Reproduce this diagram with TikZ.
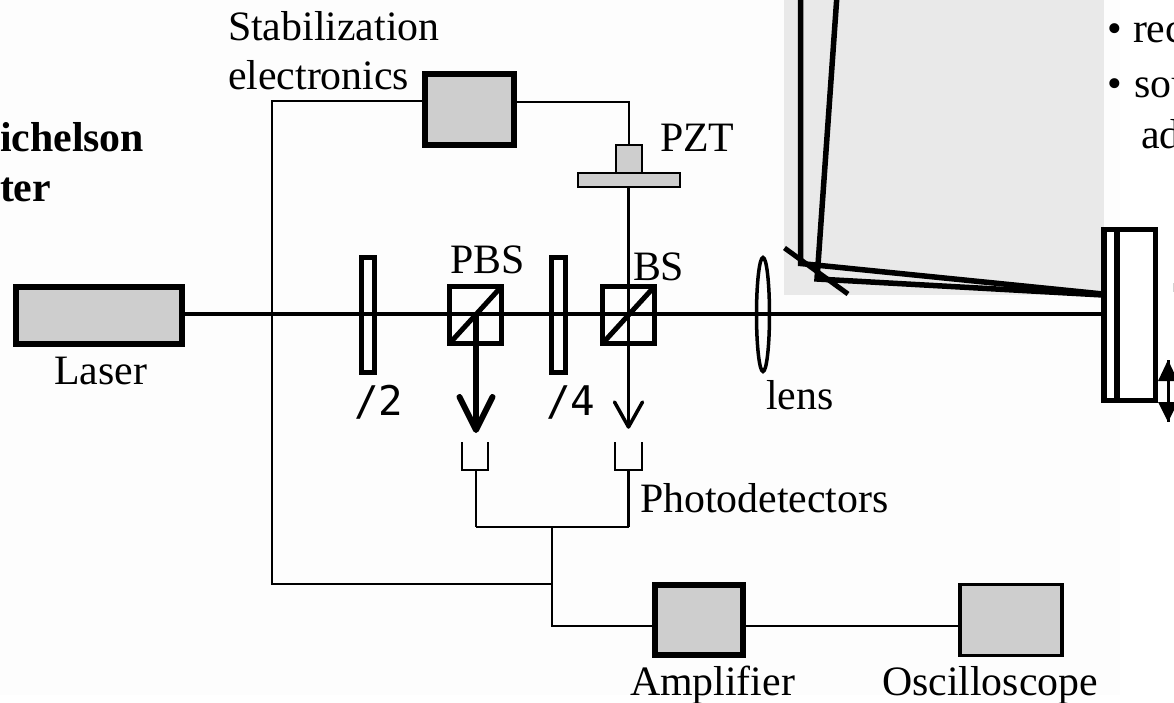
\documentclass[tikz,border=0pt]{standalone}
\usepackage{fontspec}
\usetikzlibrary{shapes.geometric}
\setmainfont{Liberation Serif}
\newfontfamily\plainsans{DejaVu Sans Mono}
\definecolor{boxgray}{HTML}{CECECE}
\definecolor{panelgray}{HTML}{E9E9E9}
\definecolor{paper}{HTML}{FDFDFD}
\tikzset{
  lbl/.style={anchor=base west,inner sep=0pt,outer sep=0pt,font=\fontsize{42}{50}\selectfont},
  boldlbl/.style={lbl,font=\fontsize{42}{50}\selectfont\bfseries},
  sym/.style={anchor=base west,inner sep=0pt,outer sep=0pt,font=\plainsans\fontsize{41}{50}\selectfont},
  gbox/.style={draw=black,fill=boxgray,rectangle,inner sep=0pt,outer sep=0pt},
  obox/.style={draw=black,rectangle,inner sep=0pt,outer sep=0pt},
  beam/.style={draw=black,line width=3.5bp},
  wire/.style={draw=black,line width=2.5bp,line join=miter},
  fat/.style={draw=black,line width=5.7bp,line join=miter},
}
\begin{document}
\begin{tikzpicture}[x=1bp,y=-1bp]
\useasboundingbox (0,0) rectangle (1174,703);
\clip (0,0) rectangle (1174,703);
\fill[white] (0,0) rectangle (1174,703);
\fill[paper] (0,0) rectangle (1120,695);
\fill[panelgray] (784,0) rectangle (1104,295);

% coordinates
\coordinate (b0) at (185,314);
\coordinate (b1) at (1103,314);
\coordinate (wTop) at (272,101);
\coordinate (wBot) at (272,584);
\coordinate (jn1) at (552,584);
\coordinate (jn0) at (552,527);
\coordinate (jn2) at (552,626);
\coordinate (pzCorner) at (629,102);
\coordinate (dL) at (476,527);
\coordinate (dR) at (628.5,527);

% boxes
\node[gbox,line width=5.7bp,minimum width=166bp,minimum height=57bp] (laser) at (99,315.5) {};
\node[gbox,line width=5.7bp,minimum width=89bp,minimum height=71bp] (stab) at (469.5,109.5) {};
\node[gbox,line width=6bp,minimum width=88bp,minimum height=70bp] (amp) at (699,620) {};
\node[gbox,line width=3.5bp,minimum width=102bp,minimum height=71bp] (osc) at (1011,620) {};
\node[gbox,line width=2bp,minimum width=26bp,minimum height=28bp] (pzt) at (629,159) {};
\node[gbox,line width=2bp,minimum width=102bp,minimum height=14bp] (plate) at (629,180.5) {};

% beams and wires
\draw[beam] (b0) -- (b1);
\draw[wire] (stab.west |- wTop) -- (wTop) -- (wBot) -- (jn1);
\draw[wire] (stab.east |- pzCorner) -- (pzCorner) -- (pzt.north -| pzCorner);
\draw[wire] (dL) -- (dR);
\draw[wire] (jn0) -- (jn2) -- (amp.west |- jn2);
\draw[wire] (amp.east |- jn2) -- (osc.west |- jn2);
\coordinate (tipL) at (476,430);
\coordinate (tipR) at (628.5,427);
\draw[beam] (plate.south -| tipR) -- (tipR);
\draw[line width=3.5bp,line cap=round,line join=round] (614.5,402) -- (tipR) -- (642.5,402);
\draw[line width=6bp] (476,314) -- (tipL);
\draw[line width=6bp,line cap=round,line join=round] (459.5,397) -- (tipL) -- (492.5,397);

% waveplates
\node[obox,line width=5bp,minimum width=13bp,minimum height=115bp] (hwp) at (368,315) {};
\node[obox,line width=5bp,minimum width=14bp,minimum height=115bp] (qwp) at (558.5,315) {};

% cubes
\node[obox,line width=5bp,minimum width=52bp,minimum height=57bp] (pbs) at (475.5,315) {};
\node[obox,line width=5bp,minimum width=52bp,minimum height=57bp] (bs) at (628.5,315) {};
\draw[line width=5bp] (pbs.south west) -- (pbs.north east);
\draw[line width=5bp] (bs.south west) -- (bs.north east);

% detectors
\coordinate (dl1) at (462,442);
\coordinate (dl2) at (488,442);
\coordinate (dr1) at (615,442);
\coordinate (dr2) at (642,442);
\draw[wire] (dl1) -- (462,470) -- (488,470) -- (dl2);
\draw[wire] (dr1) -- (615,470) -- (642,470) -- (dr2);
\draw[wire] (476,470) -- (dL);
\draw[wire] (628.5,470) -- (dR);

% lens
\node[draw=black,line width=3.5bp,ellipse,inner sep=0pt,outer sep=0pt,minimum width=13bp,minimum height=114bp] (lens) at (763,314.5) {};

% folding mirror and reflected beams
\draw[line width=5.5bp,line join=miter] (800.5,-5) -- (800.5,263.5) -- (1103,294);
\draw[line width=5.5bp,line join=miter] (837,-5) -- (817,279) -- (1103,295);
\coordinate (fm1) at (784.5,248);
\coordinate (fm2) at (848,294);
\draw[line width=5bp] (fm1) -- (fm2);

% translated mirror
\node[draw=black,fill=white,line width=5.5bp,rectangle,inner sep=0pt,outer sep=0pt,minimum width=51.5bp,minimum height=171bp] (mirror) at (1129.5,315) {};
\draw[line width=5.7bp] (1117,227) -- (1117,403);

% motion arrow
\coordinate (mUp) at (1168,360);
\coordinate (mDn) at (1168,422);
\fill (mUp) -- (1178,381) -- (1158,381) -- cycle;
\fill (mDn) -- (1178,402) -- (1158,402) -- cycle;
\draw[line width=3bp] (mUp) -- (mDn);
\draw[gray!35,line width=1bp] (1173.5,283) -- (1173.5,292);

% labels
\node[lbl] (t1) at (228,41) {Stabilization};
\node[lbl] (t2) at (228,90) {electronics};
\node[boldlbl] (t3) at (0,152) {ichelson};
\node[boldlbl] (t4) at (0,202) {ter};
\node[lbl] (t5) at (54,384) {Laser};
\node[lbl] (t6) at (450,273) {PBS};
\node[lbl] (t7) at (633,280) {BS};
\node[lbl] (t8) at (660,152) {PZT};
\node[sym] (t9) at (354,415) {/2};
\node[sym] (t10) at (546,415) {/4};
\node[lbl] (t11) at (766,409) {lens};
\node[lbl] (t12) at (640,512) {Photodetectors};
\node[lbl] (t13) at (630,695) {Amplifier};
\node[lbl] (t14) at (882,695) {Oscilloscope};
\node[lbl] (t15) at (1107,43) {•};
\node[lbl] (t16) at (1133,43) {rec};
\node[lbl] (t17) at (1107,98) {•};
\node[lbl] (t18) at (1134,98) {sou};
\node[lbl] (t19) at (1141,149) {ad};
\end{tikzpicture}
\end{document}
